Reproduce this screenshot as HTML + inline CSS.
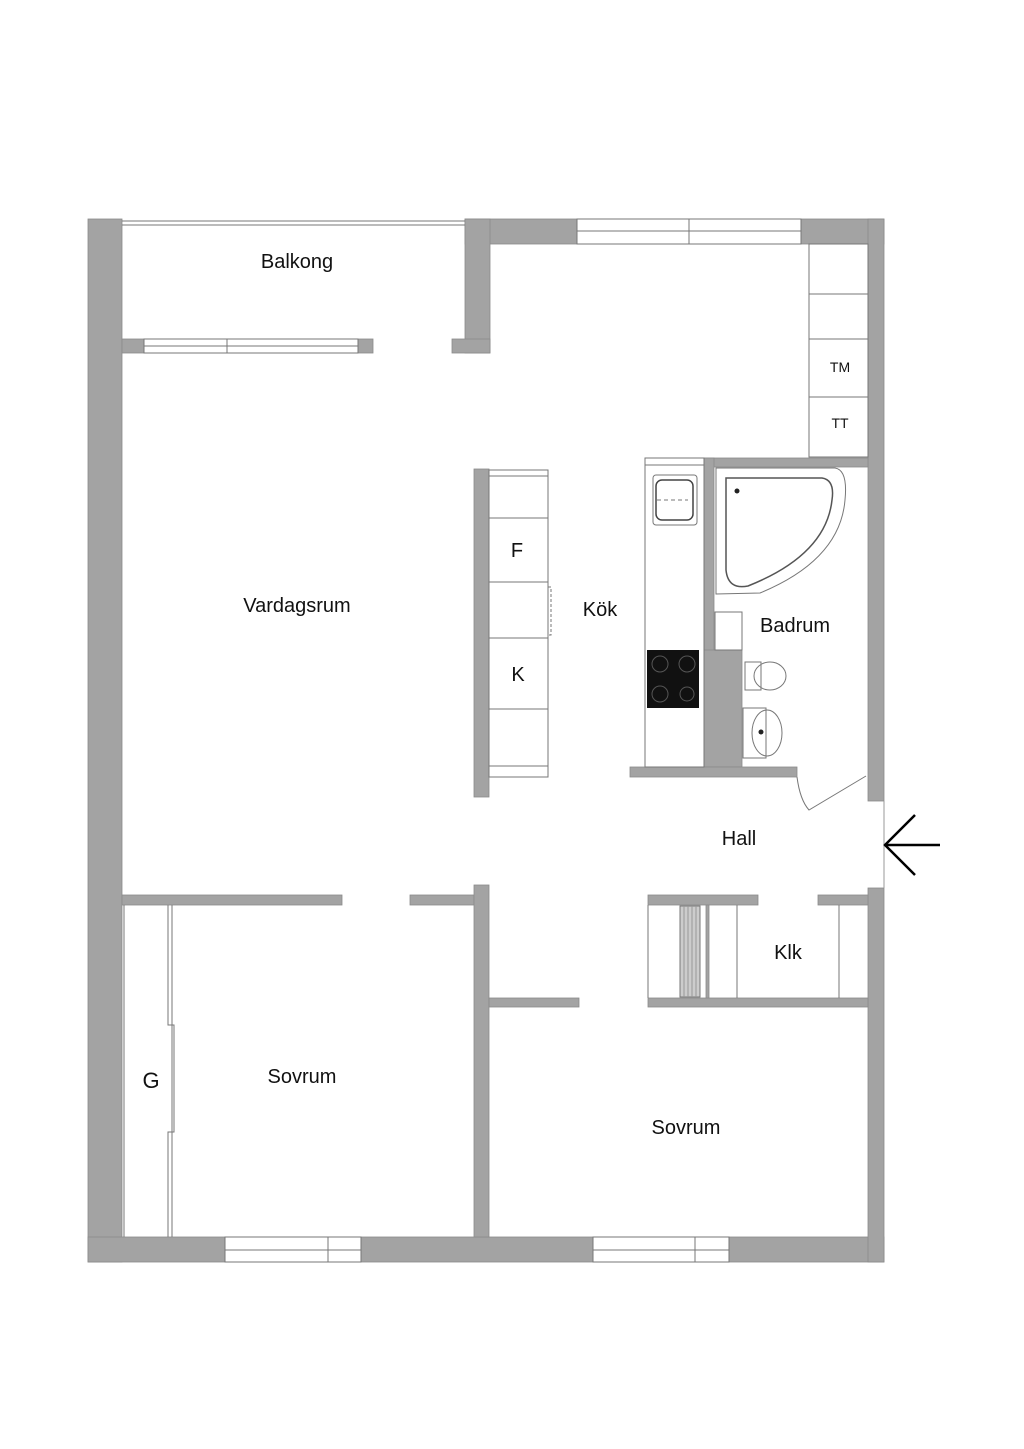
<!DOCTYPE html>
<html><head><meta charset="utf-8"><style>
html,body{margin:0;padding:0;background:#fff}
svg{display:block}
text{font-family:"Liberation Sans",sans-serif;fill:#111}
</style></head><body>
<svg width="1024" height="1449" viewBox="0 0 1024 1449" xmlns="http://www.w3.org/2000/svg">
<g fill="#a3a3a3" stroke="#8a8a8a" stroke-width="0.8">
<!-- outer walls -->
<rect x="88" y="219" width="34" height="1043"/>
<rect x="88" y="1237" width="137" height="25"/>
<rect x="361" y="1237" width="232" height="25"/>
<rect x="729" y="1237" width="155" height="25"/>
<rect x="465" y="219" width="112" height="25"/>
<rect x="465" y="219" width="25" height="134"/>
<rect x="452" y="339" width="38" height="14"/>
<rect x="801" y="219" width="83" height="25"/>
<rect x="868" y="219" width="16" height="582"/>
<rect x="868" y="888" width="16" height="374"/>
<rect x="122" y="339" width="22" height="14"/>
<rect x="358" y="339" width="15" height="14"/>
<!-- island wall -->
<rect x="474" y="469" width="15" height="328"/>
<!-- bath walls -->
<rect x="704" y="458" width="164" height="9"/>
<rect x="704" y="458" width="10" height="309"/>
<rect x="704" y="650" width="38" height="117"/>
<rect x="630" y="767" width="167" height="10"/>
<!-- interior walls -->
<rect x="122" y="895" width="220" height="10"/>
<rect x="410" y="895" width="64" height="10"/>
<rect x="474" y="885" width="15" height="352"/>
<rect x="489" y="998" width="90" height="9"/>
<rect x="648" y="895" width="110" height="10"/>
<rect x="818" y="895" width="50" height="10"/>
<rect x="648" y="998" width="220" height="9"/>
<rect x="706" y="905" width="3" height="93"/>
</g>
<g fill="none" stroke="#777" stroke-width="1">
<!-- balcony railing -->
<line x1="122" y1="221" x2="465" y2="221"/><line x1="122" y1="225" x2="465" y2="225"/>
<!-- windows -->
<rect x="144" y="339" width="214" height="14"/><line x1="144" y1="346" x2="358" y2="346"/><line x1="227" y1="339" x2="227" y2="353"/>
<rect x="577" y="219" width="224" height="25"/><line x1="577" y1="231" x2="801" y2="231"/><line x1="689" y1="219" x2="689" y2="244"/>
<rect x="225" y="1237" width="136" height="25"/><line x1="225" y1="1250" x2="361" y2="1250"/><line x1="328" y1="1237" x2="328" y2="1262"/>
<rect x="593" y="1237" width="136" height="25"/><line x1="593" y1="1250" x2="729" y2="1250"/><line x1="695" y1="1237" x2="695" y2="1262"/>
<!-- cabinets right -->
<rect x="809" y="244" width="59" height="213"/>
<line x1="809" y1="294" x2="868" y2="294"/><line x1="809" y1="339" x2="868" y2="339"/><line x1="809" y1="397" x2="868" y2="397"/>
<!-- island counter -->
<rect x="489" y="470" width="59" height="307"/>
<line x1="489" y1="476" x2="548" y2="476"/><line x1="489" y1="518" x2="548" y2="518"/><line x1="489" y1="582" x2="548" y2="582"/>
<line x1="489" y1="638" x2="548" y2="638"/><line x1="489" y1="709" x2="548" y2="709"/><line x1="489" y1="766" x2="548" y2="766"/>
<rect x="548" y="587" width="3" height="48" stroke-dasharray="3 2"/>
<!-- kitchen counter -->
<rect x="645" y="458" width="59" height="309"/><line x1="645" y1="465" x2="704" y2="465"/>
<rect x="653" y="475" width="44" height="50" rx="3"/>
<rect x="656" y="480" width="37" height="40" rx="6" stroke="#444" stroke-width="1.5"/>
<line x1="657" y1="500" x2="688" y2="500" stroke-dasharray="4 3"/>
<!-- bath cabinet -->
<rect x="715" y="612" width="27" height="38"/>
<!-- bathtub -->
<path d="M716 468 L835 468 Q848 470 845 500 Q840 560 760 593 L716 594 Z"/>
<path d="M726 478 L822 478 Q835 480 832 500 Q826 555 748 586 Q728 590 726 570 Z" stroke="#555" stroke-width="1.5"/>
<!-- toilet -->
<path d="M745 662 h16 v28 h-16 Z"/>
<ellipse cx="770" cy="676" rx="16" ry="14"/>
<!-- sink -->
<rect x="743" y="708" width="23" height="50"/>
<ellipse cx="767" cy="733" rx="15" ry="23"/>
<!-- closet -->
<line x1="124" y1="905" x2="124" y2="1237"/>
<path d="M168 905 V1025 H174 V1132 H168 V1237"/><line x1="172" y1="905" x2="172" y2="1237"/>
<line x1="648" y1="905" x2="648" y2="998"/><line x1="737" y1="905" x2="737" y2="998"/><line x1="839" y1="905" x2="839" y2="998"/>
<rect x="680" y="906" width="20" height="91" fill="#ccc"/>
<!-- entrance -->
<line x1="884" y1="801" x2="884" y2="888" stroke="#999"/>
<path d="M797 777 Q800 800 809 810 L866 776"/>
</g>
<g stroke="#999" stroke-width="1">
<line x1="684" y1="906" x2="684" y2="997"/><line x1="688" y1="906" x2="688" y2="997"/><line x1="692" y1="906" x2="692" y2="997"/><line x1="696" y1="906" x2="696" y2="997"/>
</g>
<circle cx="737" cy="491" r="2.5" fill="#222"/>
<circle cx="761" cy="732" r="2.5" fill="#222"/>
<!-- stove -->
<rect x="647" y="650" width="52" height="58" fill="#111"/>
<g fill="none" stroke="#555"><circle cx="660" cy="664" r="8"/><circle cx="687" cy="664" r="8"/><circle cx="660" cy="694" r="8"/><circle cx="687" cy="694" r="7"/></g>
<!-- arrow -->
<g stroke="#000" stroke-width="2.5" fill="none"><path d="M915 815 L885 845 L915 875"/><line x1="885" y1="845" x2="940" y2="845"/></g>
<g font-size="20">
<text x="297" y="268" text-anchor="middle">Balkong</text>
<text x="297" y="612" text-anchor="middle">Vardagsrum</text>
<text x="600" y="616" text-anchor="middle">Kök</text>
<text x="795" y="632" text-anchor="middle">Badrum</text>
<text x="739" y="845" text-anchor="middle">Hall</text>
<text x="788" y="959" text-anchor="middle">Klk</text>
<text x="302" y="1083" text-anchor="middle">Sovrum</text>
<text x="686" y="1134" text-anchor="middle">Sovrum</text>
<text x="151" y="1088" text-anchor="middle" font-size="22">G</text>
<text x="517" y="557" text-anchor="middle">F</text>
<text x="518" y="681" text-anchor="middle">K</text>
</g>
<g font-size="14"><text x="840" y="372" text-anchor="middle">TM</text><text x="840" y="428" text-anchor="middle">TT</text></g>
</svg>
</body></html>
